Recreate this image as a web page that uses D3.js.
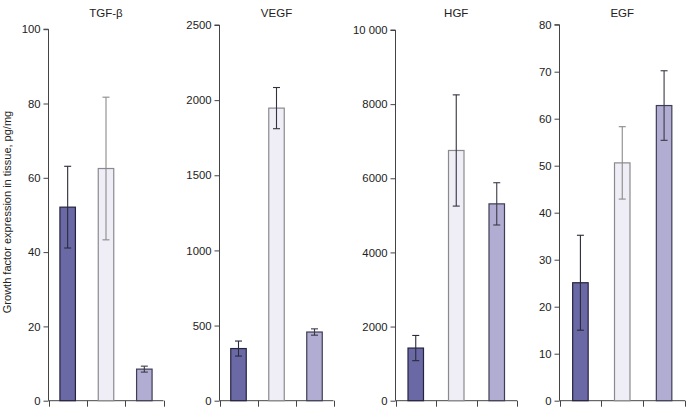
<!DOCTYPE html>
<html><head><meta charset="utf-8">
<script src="https://cdn.jsdelivr.net/npm/d3@7"></script>
<style>body{margin:0;background:#fff}svg{display:block;font-family:"Liberation Sans",Arial,sans-serif}</style>
</head><body><svg id="c" width="686" height="408"></svg>
<script>
const panels = ["TGF-β","VEGF","HGF","EGF"];
const groups = ["A","B","C"];
const tgfValues = [52.1, 62.5, 8.5];
const tgfErrors = [11.0, 19.2, 0.8];
const vegfValues = [347, 1947, 457];
const vegfErrors = [50, 137, 21];
const hgfValues = [1420, 6750, 5310];
const hgfErrors = [340, 1500, 570];
const egfValues = [25.1, 50.6, 62.8];
const egfErrors = [10.1, 7.7, 7.4];
const tgfTicks = [0,20,40,60,80,100];
const vegfTicks = [0,500,1000,1500,2000,2500];
const hgfTicks = [0,2000,4000,6000,8000,10000];
const egfTicks = [0,10,20,30,40,50,60,70,80];
const yLabel = "Growth factor expression in tissue, pg/mg";

const values=[tgfValues,vegfValues,hgfValues,egfValues];
const errors=[tgfErrors,vegfErrors,hgfErrors,egfErrors];
const ticks=[tgfTicks,vegfTicks,hgfTicks,egfTicks];
const fmt=[d3.format("d"),d3.format("d"),v=>v>=10000?d3.format(",")(v).replace(/,/g," "):String(v),d3.format("d")];

const layout=[{x0:48.5,x1:163.5,top:29.2},{x0:219.5,x1:333.5,top:25},{x0:395.5,x1:517,top:30},{x0:559.5,x1:685,top:24.7}];
const y0=400.7;
const fills=["#6a69a5","#efeef6","#b1acd1"];
const strokes=["#25243f","#8a8a8e","#3e3d55"];
const lightErr=["#8a8a8a","#333340","#333340","#8a8a8a"];
const barW=15.5;

const svg=d3.select("#c");
panels.forEach((name,i)=>{
  const L=layout[i];
  const tk=ticks[i];
  const y=d3.scaleLinear().domain([0,tk[tk.length-1]]).range([y0,L.top]);
  const x=d3.scaleBand().domain(groups).range([L.x0,L.x1]).padding(0);
  const g=svg.append("g");
  const ya=g.append("g").attr("transform",`translate(${L.x0},0)`)
    .call(d3.axisLeft(y).tickValues(tk).tickSize(5).tickPadding(3).tickFormat(fmt[i]));
  ya.select(".domain").attr("stroke","#444").attr("d",`M-5,${y(tk[tk.length-1])}H0V${y0}`);
  ya.selectAll(".tick line").attr("stroke","#444");
  ya.selectAll(".tick text").attr("fill","#222").attr("font-size",11.3).attr("font-family","Liberation Sans, Arial, sans-serif");
  g.append("line").attr("x1",L.x0).attr("x2",L.x1).attr("y1",y0).attr("y2",y0).attr("stroke","#444");
  const bounds=groups.map(d=>x(d)).concat([L.x1]);
  g.selectAll(".xt").data(bounds).join("line")
    .attr("x1",d=>Math.round(d)+0.5).attr("x2",d=>Math.round(d)+0.5).attr("y1",y0).attr("y2",y0+6).attr("stroke","#444");
  groups.forEach((gr,j)=>{
    const cx=x(gr)+x.bandwidth()/2;
    const v=values[i][j], e=errors[i][j];
    g.append("rect").attr("x",cx-barW/2).attr("width",barW)
      .attr("y",y(v)).attr("height",y0-y(v))
      .attr("fill",fills[j]).attr("stroke",strokes[j]).attr("stroke-width",1.2);
    const ec=j===1?lightErr[i]:(j===0?"#2a2a3a":"#3a3a48");
    g.append("line").attr("x1",cx).attr("x2",cx).attr("y1",y(v+e)).attr("y2",y(v-e)).attr("stroke",ec).attr("stroke-width",1.1);
    [v+e,v-e].forEach(w=>g.append("line").attr("x1",cx-3.5).attr("x2",cx+3.5).attr("y1",y(w)).attr("y2",y(w)).attr("stroke",ec).attr("stroke-width",1.1));
  });
  g.append("text").attr("x",(L.x0+L.x1)/2).attr("y",17).attr("text-anchor","middle")
    .attr("font-size",11.5).attr("fill","#222").text(name);
});
svg.append("text").attr("transform","translate(11,212) rotate(-90)").attr("text-anchor","middle")
  .attr("font-size",11).attr("fill","#222").text(yLabel);
</script></body></html>
